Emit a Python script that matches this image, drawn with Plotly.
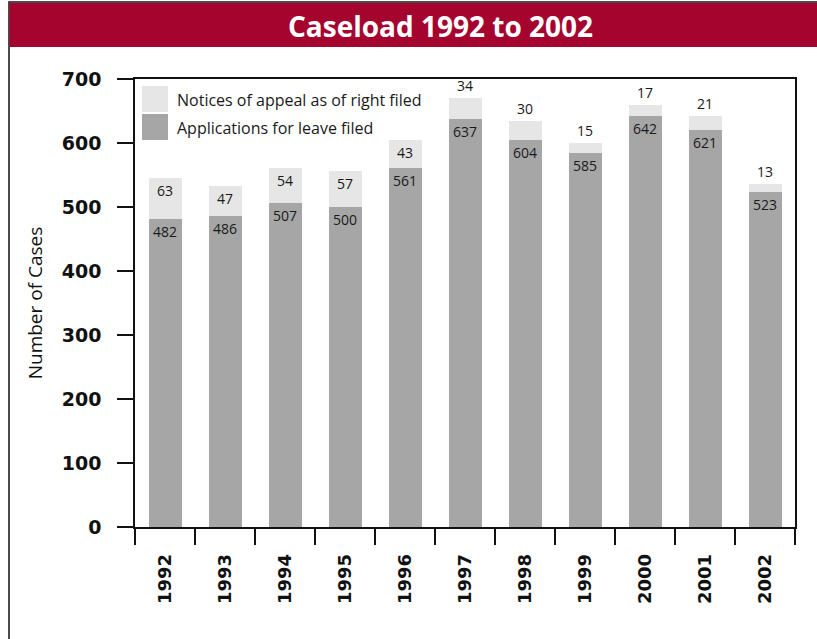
import plotly.graph_objects as go

years = ["1992", "1993", "1994", "1995", "1996", "1997", "1998", "1999", "2000", "2001", "2002"]
applications = [482, 486, 507, 500, 561, 637, 604, 585, 642, 621, 523]
notices = [63, 47, 54, 57, 43, 34, 30, 15, 17, 21, 13]
series_names = ["Notices of appeal as of right filed", "Applications for leave filed"]
title_text = "Caseload 1992 to 2002"
y_title = "Number of Cases"
y_ticks = [0, 100, 200, 300, 400, 500, 600, 700]

DARK = "#a6a6a6"
LIGHT = "#e6e6e6"
RED = "#a5042f"
LABEL_FONT = dict(family="Open Sans", size=14, color="#1a1a1a")

W, H = 817, 639
L, R, T, B = 135, 22, 79, 112
pw, ph = W - L - R, H - T - B


def px(x):
    return (x - L) / pw


def py(y):
    return (H - B - y) / ph


fig = go.Figure()
fig.add_trace(go.Bar(
    x=years, y=applications, name=series_names[1],
    marker=dict(color=DARK, line=dict(width=0)),
    text=[str(v) for v in applications], textposition="inside",
    insidetextanchor="end", textfont=LABEL_FONT, constraintext="none",
    showlegend=False, hoverinfo="x+y",
))
fig.add_trace(go.Bar(
    x=years, y=notices, name=series_names[0],
    marker=dict(color=LIGHT, line=dict(width=0)),
    text=[str(v) for v in notices],
    textposition=["inside" if v >= 40 else "outside" for v in notices],
    insidetextanchor="end", textfont=LABEL_FONT, constraintext="none",
    showlegend=False, hoverinfo="x+y", cliponaxis=False,
))

shapes = [
    # outer frame
    dict(type="rect", xref="paper", yref="paper", x0=px(9), x1=px(830), y0=py(660), y1=py(2),
         line=dict(color="#111", width=1.5), fillcolor="rgba(0,0,0,0)", layer="below"),
    # title bar
    dict(type="rect", xref="paper", yref="paper", x0=px(9.5), x1=px(830), y0=py(47), y1=py(3),
         line=dict(width=0), fillcolor=RED, layer="below"),
    # legend swatches
    dict(type="rect", xref="paper", yref="paper", x0=px(142), x1=px(168), y0=py(112), y1=py(86),
         line=dict(width=0), fillcolor=LIGHT),
    dict(type="rect", xref="paper", yref="paper", x0=px(142), x1=px(168), y0=py(140), y1=py(114),
         line=dict(width=0), fillcolor=DARK),
]

annotations = [
    dict(text="<b>" + title_text + "</b>", xref="paper", yref="paper", x=px(440), y=py(26),
         showarrow=False, font=dict(family="Open Sans", size=28, color="white"),
         xanchor="center", yanchor="middle"),
    dict(text=series_names[0], xref="paper", yref="paper", x=px(175), y=py(100),
         showarrow=False, font=dict(family="Open Sans", size=16, color="#1a1a1a"),
         xanchor="left", yanchor="middle"),
    dict(text=series_names[1], xref="paper", yref="paper", x=px(175), y=py(128),
         showarrow=False, font=dict(family="Open Sans", size=16, color="#1a1a1a"),
         xanchor="left", yanchor="middle"),
]

fig.update_layout(
    width=W, height=H,
    margin=dict(l=L, r=R, t=T, b=B, autoexpand=False),
    barmode="stack", bargap=0.45,
    plot_bgcolor="white", paper_bgcolor="white",
    shapes=shapes, annotations=annotations,
    font=dict(family="DejaVu Sans", color="#111"),
)
fig.update_yaxes(
    range=[0, 700], tickvals=y_ticks, ticktext=[str(v) for v in y_ticks],
    showgrid=False, zeroline=False, automargin=False,
    showline=True, linecolor="#111", linewidth=1.5, mirror=True,
    ticks="outside", ticklen=16, tickwidth=1.5, tickcolor="#111",
    tickfont=dict(family="DejaVu Sans", size=19, color="#111", weight="bold"),
    ticklabelstandoff=12,
    title=dict(text=y_title, font=dict(family="Open Sans", size=19, color="#111"), standoff=14),
)
fig.update_xaxes(
    showgrid=False, showline=True, linecolor="#111", linewidth=1.5, mirror=True,
    automargin=False,
    ticks="outside", ticklen=16, tickwidth=1.5, tickcolor="#111", tickson="boundaries",
    tickangle=-90, tickfont=dict(family="DejaVu Sans", size=18, color="#111", weight="bold"),
    ticklabelstandoff=18,
)

fig.write_html("out.html")
